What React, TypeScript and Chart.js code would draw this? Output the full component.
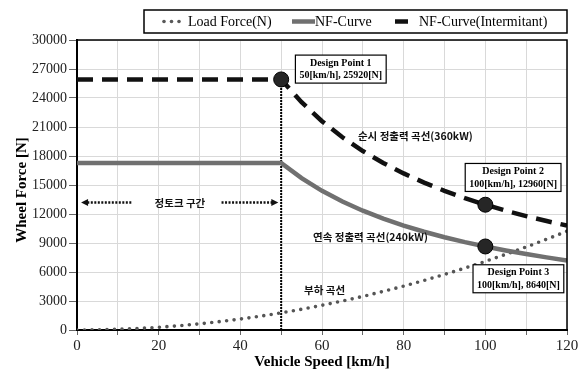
import React, { useEffect, useRef } from 'react';
import { Chart, registerables } from 'chart.js';
Chart.register(...registerables);

// ---- data ----
const nfSpeeds = [0, 50, 55, 60, 65, 70, 75, 80, 85, 90, 95, 100, 105, 110, 115, 120];
const nfCurve = [17280, 17280, 15709, 14400, 13292, 12343, 11520, 10800, 10165, 9600, 9095, 8640, 8229, 7855, 7513, 7200];
const nfIntermittent = [25920, 25920, 23564, 21600, 19938, 18514, 17280, 16200, 15247, 14400, 13642, 12960, 12343, 11782, 11270, 10800];
const loadSpeeds = [0, 2, 4, 6, 8, 10, 12, 14, 16, 18, 20, 22, 24, 26, 28, 30, 32, 34, 36, 38, 40, 42, 44, 46, 48, 50, 52, 54, 56, 58, 60, 62, 64, 66, 68, 70, 72, 74, 76, 78, 80, 82, 84, 86, 88, 90, 92, 94, 96, 98, 100, 102, 104, 106, 108, 110, 112, 114, 116, 118, 120];
const loadForce = [0, 3, 11, 26, 45, 71, 102, 139, 182, 230, 284, 344, 409, 480, 557, 639, 727, 821, 920, 1025, 1136, 1252, 1375, 1502, 1636, 1775, 1920, 2070, 2227, 2388, 2556, 2729, 2908, 3093, 3283, 3479, 3681, 3888, 4101, 4320, 4544, 4774, 5010, 5251, 5498, 5751, 6009, 6274, 6543, 6819, 7100, 7387, 7679, 7978, 8281, 8591, 8906, 9227, 9554, 9886, 10224];
const designSpeeds = [50, 100, 100];
const designForces = [25920, 12960, 8640];
const designTitles = ['Design Point 1', 'Design Point 2', 'Design Point 3'];
const designValues = ['50[km/h], 25920[N]', '100[km/h], 12960[N]', '100[km/h], 8640[N]'];
const markerSpeeds = [50, 50];
const markerForces = [0, 25920];
const seriesLabels = ['Load Force(N)', 'NF-Curve', 'NF-Curve(Intermitant)'];
const curveNotes = ['순시 정출력 곡선(360kW)', '연속 정출력 곡선(240kW)', '부하 곡선'];
const zoneNote = '정토크 구간';
const xTitle = 'Vehicle Speed [km/h]';
const yTitle = 'Wheel Force [N]';

// annotation placement (data units)
const designBoxPos = [[64.6, 26990], [106.8, 15780], [108.1, 5300]];
const curveNotePos = [[68.8, 20035], [57.8, 9654], [55.6, 4152]];
const zoneNotePos = [25.2, 13183];
const zoneArrowLeft = [13.3, 1.0];
const zoneArrowRight = [35.4, 49.3];

const SERIF = '"Liberation Serif", "Times New Roman", serif';
const KR = '"Noto Sans CJK KR", "Noto Sans", sans-serif';

const toXY = (xs: number[], ys: number[]) => xs.map((x, i) => ({ x, y: ys[i] }));

const overlay = {
  id: 'overlay',
  afterDatasetsDraw(chart: any) {
    const { ctx, chartArea: a, scales } = chart;
    const xs = scales.x, ys = scales.y;
    const px = (v: number) => xs.getPixelForValue(v);
    const py = (v: number) => ys.getPixelForValue(v);
    ctx.save();
    // frame top/right
    ctx.strokeStyle = '#000';
    ctx.lineWidth = 1.5;
    ctx.beginPath();
    ctx.moveTo(a.left, a.top);
    ctx.lineTo(a.right, a.top);
    ctx.lineTo(a.right, a.bottom);
    ctx.stroke();

    // design point boxes
    designTitles.forEach((t, i) => {
      const cx = px(designBoxPos[i][0]);
      const cy = py(designBoxPos[i][1]);
      ctx.font = `bold 10px ${SERIF}`;
      const w = Math.max(ctx.measureText(t).width, ctx.measureText(designValues[i]).width) + 8;
      const h = 28;
      ctx.fillStyle = '#fff';
      ctx.fillRect(cx - w / 2, cy - h / 2, w, h);
      ctx.strokeStyle = '#000';
      ctx.lineWidth = 1.2;
      ctx.strokeRect(cx - w / 2, cy - h / 2, w, h);
      ctx.fillStyle = '#000';
      ctx.textAlign = 'center';
      ctx.textBaseline = 'middle';
      ctx.fillText(t, cx, cy - 6);
      ctx.fillText(designValues[i], cx, cy + 6.5);
    });

    // curve notes
    ctx.font = `bold 10.5px ${KR}`;
    ctx.fillStyle = '#111';
    ctx.textAlign = 'left';
    ctx.textBaseline = 'middle';
    curveNotes.forEach((t, i) => {
      ctx.fillText(t, px(curveNotePos[i][0]), py(curveNotePos[i][1]));
    });
    ctx.textAlign = 'center';
    ctx.fillText(zoneNote, px(zoneNotePos[0]), py(zoneNotePos[1]));

    // arrows
    const ay = py(zoneNotePos[1]);
    const arrow = (from: number, to: number) => {
      const x1 = px(from), x2 = px(to);
      const dir = Math.sign(x2 - x1);
      ctx.strokeStyle = '#111';
      ctx.lineWidth = 2.5;
      ctx.setLineDash([2, 1.5]);
      ctx.beginPath();
      ctx.moveTo(x1, ay);
      ctx.lineTo(x2 - dir * 5, ay);
      ctx.stroke();
      ctx.setLineDash([]);
      ctx.fillStyle = '#111';
      ctx.beginPath();
      ctx.moveTo(x2, ay);
      ctx.lineTo(x2 - dir * 7, ay - 3.5);
      ctx.lineTo(x2 - dir * 7, ay + 3.5);
      ctx.closePath();
      ctx.fill();
    };
    arrow(zoneArrowLeft[0], zoneArrowLeft[1]);
    arrow(zoneArrowRight[0], zoneArrowRight[1]);

    // axis titles
    ctx.fillStyle = '#000';
    ctx.font = `bold 15px ${SERIF}`;
    ctx.textAlign = 'center';
    ctx.textBaseline = 'middle';
    ctx.fillText(xTitle, (a.left + a.right) / 2, 362);
    ctx.save();
    ctx.translate(22, 190);
    ctx.rotate(-Math.PI / 2);
    ctx.fillText(yTitle, 0, 0);
    ctx.restore();

    // legend
    const lx = 144, ly = 10, lw = a.right - 144, lh = 23, my = ly + lh / 2;
    ctx.fillStyle = '#fff';
    ctx.fillRect(lx, ly, lw, lh);
    ctx.strokeStyle = '#000';
    ctx.lineWidth = 1.5;
    ctx.strokeRect(lx, ly, lw, lh);
    ctx.font = `14px ${SERIF}`;
    ctx.textAlign = 'left';
    ctx.fillStyle = '#595959';
    [164, 171.5, 179].forEach((x) => {
      ctx.beginPath();
      ctx.arc(x, my, 1.8, 0, Math.PI * 2);
      ctx.fill();
    });
    ctx.fillStyle = '#000';
    ctx.fillText(seriesLabels[0], 188, my + 1);
    ctx.strokeStyle = '#707070';
    ctx.lineWidth = 4.5;
    ctx.beginPath();
    ctx.moveTo(292, my);
    ctx.lineTo(315, my);
    ctx.stroke();
    ctx.fillText(seriesLabels[1], 315, my + 1);
    ctx.strokeStyle = '#111';
    ctx.beginPath();
    ctx.moveTo(395, my);
    ctx.lineTo(408, my);
    ctx.stroke();
    ctx.fillText(seriesLabels[2], 419, my + 1);
    ctx.restore();
  },
};

export default function App() {
  const ref = useRef<HTMLCanvasElement>(null);
  useEffect(() => {
    if (!ref.current) return;
    Chart.defaults.font.family = SERIF;
    const chart = new Chart(ref.current, {
      type: 'line',
      data: {
        datasets: [
          {
            label: 'Design Points',
            data: toXY(designSpeeds, designForces),
            showLine: false,
            pointRadius: 7.5,
            pointBackgroundColor: '#262626',
            pointBorderColor: '#000',
            pointBorderWidth: 1,
            order: 0,
          },
          {
            label: seriesLabels[0],
            data: toXY(loadSpeeds, loadForce),
            borderColor: '#555',
            borderWidth: 3.6,
            borderDash: [0, 7.5],
            borderCapStyle: 'round',
            pointRadius: 0,
            tension: 0,
            order: 3,
          },
          {
            label: seriesLabels[1],
            data: toXY(nfSpeeds, nfCurve),
            borderColor: '#707070',
            borderWidth: 4.5,
            pointRadius: 0,
            tension: 0,
            order: 2,
          },
          {
            label: seriesLabels[2],
            data: toXY(nfSpeeds, nfIntermittent),
            borderColor: '#111',
            borderWidth: 4.5,
            borderDash: [16, 9],
            pointRadius: 0,
            tension: 0,
            order: 1,
          },
          {
            label: 'marker',
            data: toXY(markerSpeeds, markerForces),
            borderColor: '#000',
            borderWidth: 2,
            borderDash: [2, 1],
            pointRadius: 0,
            order: 4,
          },
        ] as any,
      },
      options: {
        responsive: false,
        animation: false,
        layout: { padding: { top: 40, right: 17, left: 0, bottom: 0 } },
        plugins: { legend: { display: false }, tooltip: { enabled: false } },
        scales: {
          x: {
            type: 'linear',
            min: 0,
            max: 120,
            ticks: {
              stepSize: 10,
              autoSkip: false,
              maxRotation: 0,
              callback: (v: any) => (Number(v) % 20 === 0 ? String(v) : ''),
              font: { size: 15, family: SERIF },
              color: '#222',
              padding: 2,
            },
            grid: { color: '#d9d9d9', lineWidth: 1, tickLength: 5, tickColor: '#666' },
            border: { color: '#000', width: 2 },
            afterFit: (s: any) => { s.height = 44; },
          },
          y: {
            min: 0,
            max: 30000,
            ticks: {
              stepSize: 3000,
              callback: (v: any) => String(v),
              font: { size: 14, family: SERIF },
              color: '#222',
              padding: 2,
            },
            grid: { color: '#d9d9d9', lineWidth: 1, tickLength: 8, tickColor: '#666' },
            border: { color: '#000', width: 2 },
            afterFit: (s: any) => { s.width = 77; },
          },
        },
      } as any,
      plugins: [overlay],
    });
    return () => chart.destroy();
  }, []);
  return (
    <div style={{ position: 'fixed', left: 0, top: 0, width: 584, height: 374, background: '#fff' }}>
      <canvas ref={ref} width={584} height={374} style={{ display: 'block' }} />
    </div>
  );
}
